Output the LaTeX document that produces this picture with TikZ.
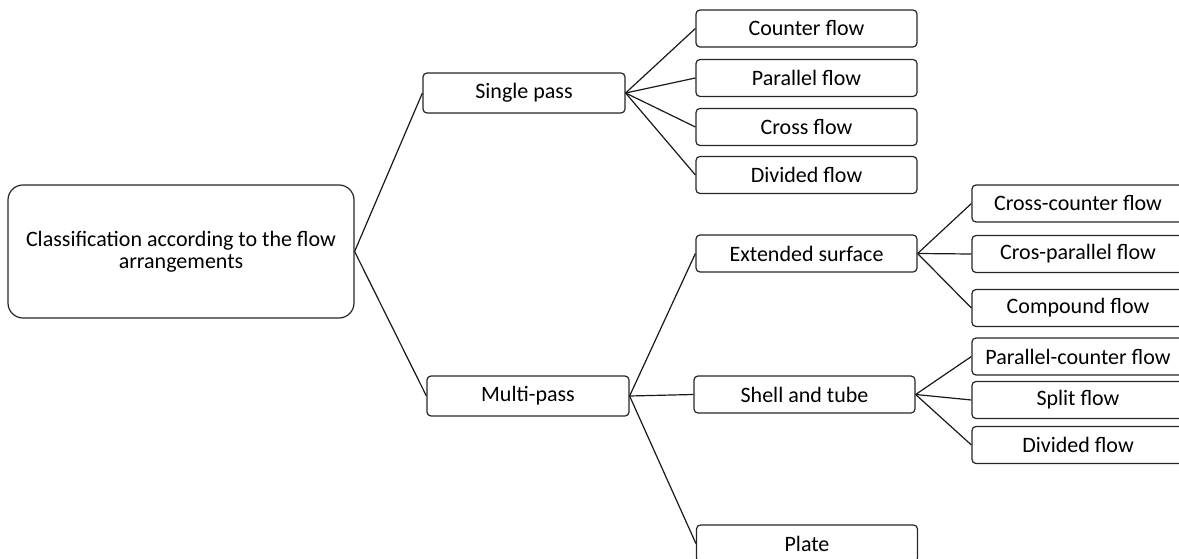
\documentclass[tikz,border=0pt]{standalone}
\usepackage{fontspec}
\setmainfont{Carlito}
\begin{document}
\begin{tikzpicture}[x=1pt,y=-1pt,
  every node/.style={font=\fontsize{22}{22}\selectfont, text=black},
  box/.style={draw=black!85, line width=1.2pt, rounded corners=4pt,
    inner sep=0pt, align=center, minimum height=37pt},
  midbox/.style={box, minimum width=221pt},
  leafbox/.style={box, minimum width=212pt},
  passbox/.style={box, minimum width=202pt, minimum height=40pt},
  link/.style={draw=black!90, line width=1.2pt}]
\useasboundingbox (0,0) rectangle (1179,559);

% root of the classification
\node[box, rounded corners=15pt, minimum width=346pt, minimum height=133pt]
  (root) at (181,251.5) {Classification according to the flow\\arrangements};

% first level
\node[passbox] (sp) at (524,93) {Single pass};
\node[passbox] (mp) at (528,396) {Multi-pass};

% single pass types
\node[midbox] (cf) at (806.5,28.5) {Counter flow};
\node[midbox] (pf) at (806.5,78)   {Parallel flow};
\node[midbox] (xf) at (806.5,127)  {Cross flow};
\node[midbox] (df) at (806.5,175)  {Divided flow};

% multi-pass types
\node[midbox] (es) at (806.5,253.5) {Extended surface};
\node[midbox] (st) at (804.5,394.5) {Shell and tube};
\node[midbox] (pl) at (807,543.5)   {Plate};

% extended surface variants
\node[leafbox] (ccf) at (1078,203.5) {Cross-counter flow};
\node[leafbox] (cpf) at (1078,254)   {Cros-parallel flow};
\node[leafbox] (cmf) at (1078,308)   {Compound flow};

% shell and tube variants
\node[leafbox] (pcf) at (1078,356.5) {Parallel-counter flow};
\node[leafbox] (slf) at (1078,400)   {Split flow};
\node[leafbox] (dvf) at (1078,445)   {Divided flow};

% connectors
\draw[link] (root.east) -- (sp.west);
\draw[link] (root.east) -- (mp.west);
\foreach \n in {cf,pf,xf,df} \draw[link] (sp.east) -- (\n.west);
\foreach \n in {es,st,pl} \draw[link] (mp.east) -- (\n.west);
\foreach \n in {ccf,cpf,cmf} \draw[link] (es.east) -- (\n.west);
\foreach \n in {pcf,slf,dvf} \draw[link] (st.east) -- (\n.west);
\end{tikzpicture}
\end{document}
